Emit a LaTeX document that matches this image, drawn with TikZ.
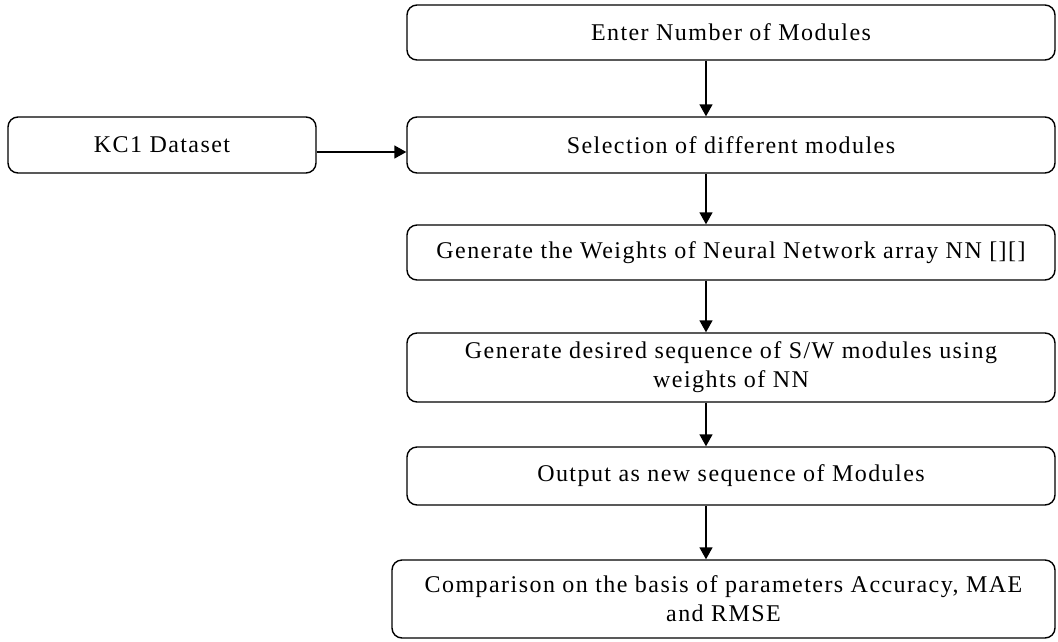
\documentclass[tikz,border=0pt]{standalone}
\usepackage{fontspec}
\setmainfont{Liberation Serif}[LetterSpace=6]
\usetikzlibrary{arrows.meta}
\tikzset{
  stepbox/.style={draw,rounded corners=10pt,line width=1.4pt,align=center,
    inner sep=0pt,font=\fontsize{24}{29}\selectfont},
  flow/.style={-{Triangle[length=12pt,width=13pt]},line width=1.5pt}
}
\begin{document}
\begin{tikzpicture}[x=1pt,y=-1pt]
\useasboundingbox (0,0) rectangle (1058,641);
\node [stepbox,minimum width=648pt,minimum height=55pt] (enter) at (731,32.5) {Enter Number of Modules};
\node [stepbox,minimum width=308pt,minimum height=56pt] (kc) at (162,145) {KC1 Dataset};
\node [stepbox,minimum width=648pt,minimum height=56pt] (select) at (731,145) {Selection of different modules};
\node [stepbox,minimum width=648pt,minimum height=55pt] (weights) at (731,252.5) {Generate the Weights of Neural Network array NN [][]};
\node [stepbox,minimum width=648pt,minimum height=69pt] (seq) at (731,367.5) {Generate desired sequence of S/W modules using\\weights of NN};
\node [stepbox,minimum width=648pt,minimum height=58pt] (out) at (731,476) {Output as new sequence of Modules};
\node [stepbox,minimum width=663pt,minimum height=78pt] (cmp) at (723.5,599) {Comparison on the basis of parameters Accuracy, MAE\\and RMSE};
\coordinate (ax) at (706,0);
\draw [flow] (enter.south -| ax) -- (select.north -| ax);
\draw [flow] ([yshift=-7pt]kc.east) -- ([yshift=-7pt]select.west);
\draw [flow] (select.south -| ax) -- (weights.north -| ax);
\draw [flow] (weights.south -| ax) -- (seq.north -| ax);
\draw [flow] (seq.south -| ax) -- (out.north -| ax);
\draw [flow] (out.south -| ax) -- (cmp.north -| ax);
\end{tikzpicture}
\end{document}
